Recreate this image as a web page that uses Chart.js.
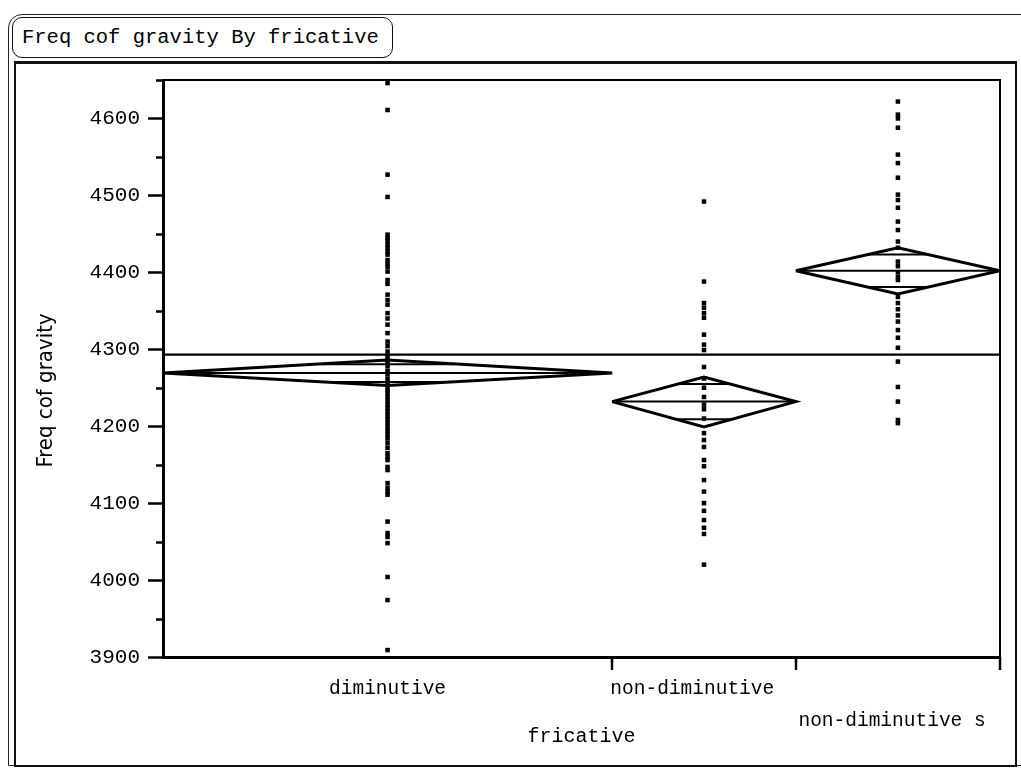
<!DOCTYPE html>
<html>
<head>
<meta charset="utf-8">
<title>Freq cof gravity By fricative</title>
<script src="https://cdn.jsdelivr.net/npm/chart.js"></script>
<style>
  html, body { margin: 0; padding: 0; background: #fff; }
  body { width: 1021px; height: 770px; position: relative; overflow: hidden; }
  #marco-exterior {
    position: absolute; left: 8px; top: 14px; width: 1040px; height: 750px;
    border: 1.5px solid #222; border-radius: 14px 0 0 0;
  }
  #titulo {
    position: absolute; left: 12px; top: 17px; width: 370px; height: 39px;
    border: 1.5px solid #111; border-radius: 10px;
    font: 20.5px "Liberation Mono", "Courier New", monospace; color: #000;
    line-height: 39px; padding-left: 9px; box-sizing: content-box;
  }
  #marco-grafico {
    position: absolute; left: 14px; top: 61px; width: 999px; height: 701px;
    border: 2px solid #111; border-top-width: 3px;
  }
  #contenedor { position: absolute; left: 0; top: 0; width: 1021px; height: 770px; }
</style>
</head>
<body>
<div id="marco-exterior"></div>
<div id="marco-grafico"></div>
<div id="titulo">Freq cof gravity By fricative</div>
<div id="contenedor"><canvas id="grafico" width="1021" height="770"></canvas></div>
<script>
// grupos del eje x (ancho proporcional al numero de observaciones)
const categorias = ['diminutive', 'non-diminutive', 'non-diminutive s'];
const conteos = [66, 27, 30];

// valores, por grupo
const valoresDiminutive = [
  4646, 4611, 4527, 4498,
  4449, 4445, 4441, 4436, 4432, 4427, 4423, 4416, 4411, 4407, 4401, 4390, 4385,
  4371, 4364, 4358, 4347, 4340, 4332, 4321, 4310, 4304, 4297,
  4290, 4283, 4278, 4272, 4268,
  4262, 4257, 4252, 4247, 4243, 4238, 4233, 4228, 4224, 4219, 4214, 4209, 4204,
  4199, 4194, 4189, 4184, 4178, 4172,
  4165, 4160, 4156, 4147, 4143,
  4126, 4120, 4115, 4111,
  4076, 4061, 4056, 4048, 4004, 3974, 3909
];
const valoresNonDiminutive = [
  4492, 4388, 4360, 4354, 4347, 4341, 4319, 4306, 4299, 4277,
  4262, 4250, 4238, 4228, 4222, 4210, 4191, 4182, 4173, 4156,
  4148, 4130, 4115, 4100, 4090, 4078, 4068, 4060, 4020
];
const valoresNonDiminutiveS = [
  4622, 4605, 4600, 4588, 4553, 4542, 4523, 4501, 4494, 4484,
  4466, 4455, 4440, 4432, 4414, 4408, 4400, 4394, 4390, 4368,
  4360, 4352, 4344, 4336, 4325, 4315, 4302, 4284, 4251, 4232,
  4208, 4204
];

// diamantes de medias (media e intervalo de confianza)
const medias = [4269, 4232, 4402];
const icInferior = [4253, 4199, 4372];
const icSuperior = [4286, 4264, 4432];
const mediaGlobal = 4293;

// eje y
const yMin = 3900;
const yMax = 4650;
const yPaso = 50;

(function() {
  const fuenteMono = '"Liberation Mono", "Courier New", monospace';

  // limites de cada grupo en el eje x
  const limites = [0];
  conteos.forEach(function(n) { limites.push(limites[limites.length - 1] + n); });
  const centros = conteos.map(function(n, i) { return limites[i] + n / 2; });
  const total = limites[limites.length - 1];

  const grupos = [valoresDiminutive, valoresNonDiminutive, valoresNonDiminutiveS];
  const datasets = [];

  grupos.forEach(function(valores, i) {
    datasets.push({
      label: categorias[i],
      data: valores.map(function(v) { return { x: centros[i], y: v }; }),
      pointStyle: 'rect',
      pointRadius: 3.2,
      pointBorderWidth: 0,
      backgroundColor: '#000',
      borderColor: '#000',
      showLine: false
    });
  });

  // diamantes
  medias.forEach(function(m, i) {
    const izq = limites[i], der = limites[i + 1], c = centros[i];
    datasets.push({
      label: 'diamante ' + i,
      data: [
        { x: izq, y: m }, { x: c, y: icSuperior[i] }, { x: der, y: m },
        { x: c, y: icInferior[i] }, { x: izq, y: m }
      ],
      showLine: true, borderColor: '#000', borderWidth: 3,
      pointRadius: 0, fill: false, tension: 0
    });
    // linea de la media
    datasets.push({
      label: 'media ' + i,
      data: [{ x: izq, y: m }, { x: der, y: m }],
      showLine: true, borderColor: '#000', borderWidth: 2, pointRadius: 0
    });
    // marcas de solapamiento
    const mitad = (icSuperior[i] - icInferior[i]) / 2;
    const d = mitad / Math.SQRT2;
    const semiAncho = (der - izq) / 2 * (1 - Math.SQRT1_2);
    [m + d, m - d].forEach(function(yv, k) {
      datasets.push({
        label: 'solape ' + i + '-' + k,
        data: [{ x: c - semiAncho, y: yv }, { x: c + semiAncho, y: yv }],
        showLine: true, borderColor: '#000', borderWidth: 2, pointRadius: 0
      });
    });
  });

  // media global
  datasets.push({
    label: 'media global',
    data: [{ x: 0, y: mediaGlobal }, { x: total, y: mediaGlobal }],
    showLine: true, borderColor: '#000', borderWidth: 2.4, pointRadius: 0
  });

  // marcas de los ejes y borde superior/derecho del area
  const marcasEjes = {
    id: 'marcasEjes',
    afterDraw: function(chart) {
      const ctx = chart.ctx;
      const area = chart.chartArea;
      const ys = chart.scales.y, xs = chart.scales.x;
      ctx.save();
      ctx.strokeStyle = '#000';
      ctx.lineWidth = 2;
      ctx.beginPath();
      ctx.moveTo(area.left, area.top);
      ctx.lineTo(area.right, area.top);
      ctx.lineTo(area.right, area.bottom);
      ctx.stroke();

      ctx.lineWidth = 2.5;
      ys.ticks.forEach(function(t) {
        const py = Math.round(ys.getPixelForValue(t.value)) + 0.5;
        const largo = (t.value % 100 === 0) ? 15 : 7;
        ctx.beginPath();
        ctx.moveTo(area.left - largo, py);
        ctx.lineTo(area.left, py);
        ctx.stroke();
      });
      limites.slice(1).forEach(function(v) {
        const px = Math.round(xs.getPixelForValue(v));
        ctx.beginPath();
        ctx.moveTo(px, area.bottom);
        ctx.lineTo(px, area.bottom + 13);
        ctx.stroke();
      });
      ctx.restore();
    }
  };

  new Chart(document.getElementById('grafico').getContext('2d'), {
    type: 'scatter',
    data: { datasets: datasets },
    plugins: [marcasEjes],
    options: {
      responsive: false,
      animation: false,
      events: [],
      layout: { padding: { left: 0, top: 80, right: 21, bottom: 0 } },
      plugins: { legend: { display: false }, tooltip: { enabled: false } },
      scales: {
        x: {
          type: 'linear',
          min: 0,
          max: total,
          afterFit: function(scale) { scale.height = 113; },
          afterBuildTicks: function(scale) {
            scale.ticks = centros.map(function(c) { return { value: c }; });
          },
          ticks: {
            color: '#000',
            autoSkip: false,
            maxRotation: 0,
            padding: 4,
            font: { family: fuenteMono, size: 19.5, lineHeight: 1.64 },
            callback: function(value, index) {
              if (index === 1) return categorias[index] + '  ';
              return index === 2 ? ['', categorias[index] + ' '] : categorias[index];
            }
          },
          grid: { display: true, drawOnChartArea: false, drawTicks: true, tickLength: 12, tickColor: 'rgba(0,0,0,0)' },
          border: { display: true, color: '#000', width: 3 },
          title: {
            display: true,
            text: 'fricative',
            color: '#000',
            font: { family: fuenteMono, size: 20 },
            padding: { top: 0, bottom: 21 }
          }
        },
        y: {
          type: 'linear',
          min: yMin,
          max: yMax,
          afterFit: function(scale) { scale.width = 163; },
          ticks: {
            stepSize: yPaso,
            color: '#000',
            padding: 8,
            autoSkip: false,
            font: { family: fuenteMono, size: 21 },
            callback: function(value) { return value % 100 === 0 ? String(value) : ''; }
          },
          grid: { display: true, drawOnChartArea: false, drawTicks: true, tickLength: 15, tickColor: 'rgba(0,0,0,0)' },
          border: { display: true, color: '#000', width: 3 },
          title: {
            display: true,
            text: 'Freq cof gravity       ',
            color: '#000',
            font: { family: '"DejaVu Sans Condensed", "Liberation Sans Narrow", "Liberation Sans", sans-serif', size: 22 },
            padding: { top: 33, bottom: 0 }
          }
        }
      }
    }
  });
})();
</script>
</body>
</html>
